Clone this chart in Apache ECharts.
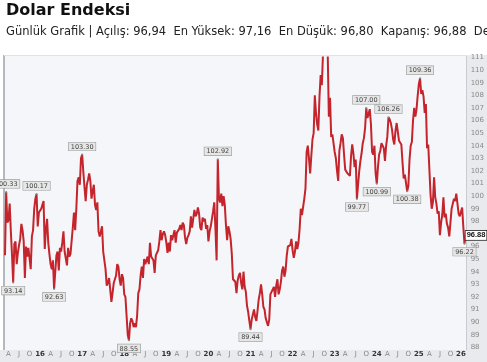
<!DOCTYPE html>
<html><head><meta charset="utf-8">
<script src="https://cdn.jsdelivr.net/npm/echarts@6/dist/echarts.min.js"></script>
<style>html,body{margin:0;padding:0;background:#fff}#c{width:487px;height:362px}</style>
</head><body><div id="c"></div>
<script>
// Dolar Endeksi - three samples per month (~1st, ~11th, ~21st), March 2015 .. February 2026
const startYear = 2015, startMonth = 3;
const sampleDays = [1, 11, 21];
const v2015 = [95.3,100.33,97.9, 98.1,99.4,97.2, 95.3,93.14,96.2, 96.4,94.6,95.5, 96.1,96.6,97.8, 97.3,96.4,93.5, 96.0,95.2,95.9, 96.0,94.2,96.8, 97.3,99.0,99.8, 100.17,97.6,98.7];
const v2016 = [98.7,99.0,99.3, 99.6,95.8,97.4, 98.2,96.3,95.4, 94.6,94.2,94.9, 92.63,94.0,95.3, 95.6,94.1,95.9, 95.6,96.3,97.2, 95.6,95.5,94.5, 95.9,95.2,95.4, 95.5,97.5,98.7, 97.3,99.0,101.2, 101.5,100.9,103.0];
const v2017 = [103.30,101.9,100.7, 99.6,100.9,101.3, 101.8,101.2,99.8, 100.4,100.9,99.3, 98.9,99.5,97.2, 96.8,96.9,97.6, 95.6,95.6,94.2, 92.9,93.1,93.5, 92.6,91.6,92.3, 93.1,93.0,93.7, 94.6,94.4,93.4, 92.9,93.8,93.5];
const v2018 = [92.2,92.0,90.5, 89.0,88.55,89.9, 90.3,90.1,89.6, 89.9,89.6,90.5, 92.3,92.6,93.7, 94.4,93.5,95.0, 94.6,94.6,95.2, 94.6,96.3,95.2, 95.3,94.9,93.9, 95.3,95.3,95.7, 96.4,97.3,96.5, 97.0,97.2,96.9];
const v2019 = [96.3,95.5,96.3, 95.6,96.9,96.5, 96.4,97.3,96.3, 97.1,97.0,97.4, 97.7,97.3,97.9, 97.7,96.7,96.2, 96.7,96.9,97.2, 98.4,97.5,98.2, 98.9,98.4,98.6, 99.1,98.6,97.5, 97.3,98.3,98.0, 98.2,97.4,97.7];
const v2020 = [96.4,97.2,97.6, 97.7,98.8,99.5, 97.4,94.9,102.92, 99.8,99.5,100.2, 99.2,100.0,99.3, 97.7,96.5,97.6, 97.2,96.6,95.4, 93.4,93.4,93.2, 92.3,93.3,93.7, 93.9,93.1,92.6, 94.0,92.8,92.4, 91.3,90.8,90.1];
const v2021 = [89.44,90.2,90.2, 91.0,90.4,90.1, 90.9,91.8,92.3, 93.0,92.2,91.2, 91.0,90.3,90.0, 89.7,90.2,92.2, 92.2,92.6,92.8, 92.0,92.9,93.4, 92.2,92.6,93.2, 94.1,94.4,93.6, 94.1,95.3,96.0, 96.1,96.1,96.6];
const v2022 = [95.7,95.1,95.6, 96.4,95.8,96.3, 97.4,99.0,98.5, 98.6,99.8,100.6, 103.5,104.0,103.0, 101.8,103.2,104.5, 105.0,108.0,106.6, 105.7,105.2,107.9, 109.6,108.8,111.3, 112.1,113.2,112.0, 111.5,106.3,107.8, 104.7,104.9,104.2];
const v2023 = [103.5,103.0,102.0, 101.2,103.6,104.2, 104.9,104.6,103.3, 102.1,102.2,101.8, 101.9,101.6,103.2, 104.1,103.4,102.3, 102.9,99.77,100.9, 102.0,102.8,103.4, 104.2,104.6,105.4, 107.00,106.2,106.2, 106.9,105.7,103.5, 103.3,104.0,101.8];
const v2024 = [100.99,102.3,103.3, 103.6,104.2,104.2, 103.8,102.8,104.0, 104.7,106.26,106.1, 105.8,105.3,104.5, 104.1,105.2,105.8, 105.7,104.4,104.4, 104.1,102.7,101.4, 101.7,101.7,100.38, 100.8,102.9,104.0, 104.3,106.0,107.0, 106.3,106.9,108.0];
const v2025 = [108.9,109.36,108.1, 108.4,107.9,106.6, 107.3,103.8,104.1, 104.2,100.1,99.0, 99.5,101.5,99.9, 99.4,98.6,98.8, 96.9,97.9,98.5, 99.9,98.3,98.6, 97.8,97.5,96.8, 97.9,99.0,98.9, 99.8,99.6,100.2, 99.4,98.6,98.4];
const v2026 = [98.3,99.1,97.6, 96.22,96.88];

// annotated extremes (date, side)
const annotated = [
  ['2015-03-11','top'],['2015-05-11','bottom'],['2015-12-01','top'],['2016-05-01','bottom'],
  ['2017-01-01','top'],['2018-02-11','bottom'],['2020-03-21','top'],['2021-01-01','bottom'],
  ['2023-07-11','bottom'],['2023-10-01','top'],['2024-01-01','bottom'],['2024-04-11','top'],
  ['2024-09-21','bottom'],['2025-01-11','top'],['2026-02-01','bottom']
];
const yMin = 88, yMax = 111;
const monthLetters = {4:'A', 7:'J', 10:'O'};

const values = [].concat(v2015,v2016,v2017,v2018,v2019,v2020,v2021,v2022,v2023,v2024,v2025,v2026);
const dates = values.map((v,i)=>{
  const m = startMonth-1+Math.floor(i/3);
  const y = startYear+Math.floor(m/12);
  const mm = m%12+1;
  return y+'-'+String(mm).padStart(2,'0')+'-'+String(sampleDays[i%3]).padStart(2,'0');
});
const last = values[values.length-1];

const chart = echarts.init(document.getElementById('c'), null, {renderer:'canvas'});
const FONT = 'DejaVu Sans';
chart.setOption({
  animation:false,
  backgroundColor:'#ffffff',
  textStyle:{fontFamily:FONT},
  title:[
    {text:'Dolar Endeksi', left:6, top:3, padding:0, textStyle:{fontFamily:FONT, fontSize:16, fontWeight:'bold', color:'#111'}},
    {text:'Günlük Grafik | Açılış: 96,94  En Yüksek: 97,16  En Düşük: 96,80  Kapanış: 96,88  Değişim', left:6, top:26, padding:0, textStyle:{fontFamily:FONT, fontSize:11.5, fontWeight:'normal', color:'#222'}}
  ],
  graphic:[
    {type:'rect', z:-10, shape:{x:4, y:55, width:463, height:295}, style:{fill:'#f4f6f9'}},
    {type:'rect', z:-10, shape:{x:467, y:55, width:20, height:307}, style:{fill:'#e8eaee'}},
    {type:'rect', z:-10, shape:{x:0, y:350, width:487, height:12}, style:{fill:'#e8eaee'}},
    {type:'rect', z:-9, shape:{x:466, y:55, width:1, height:295}, style:{fill:'#c8cbd0'}},
    {type:'rect', z:-9, shape:{x:3, y:55, width:2, height:295}, style:{fill:'#b5b8bd'}},
    {type:'rect', z:-9, shape:{x:4, y:55, width:463, height:1}, style:{fill:'#dfe2e6'}}
  ],
  grid:{left:5, right:20, top:57.5, bottom:14.7, containLabel:false},
  xAxis:{
    type:'category', data:dates, boundaryGap:false,
    axisLine:{show:false}, axisTick:{show:false}, splitLine:{show:false},
    axisLabel:{
      interval:(idx,val)=> val.endsWith('-01') && [1,4,7,10].includes(+val.slice(5,7)),
      formatter:(val)=>{const mm=+val.slice(5,7); return mm===1 ? '{y|'+val.slice(2,4)+'}' : monthLetters[mm];},
      fontSize:7, color:'#888', margin:3,
      rich:{y:{fontSize:7, fontWeight:'bold', color:'#333'}}
    }
  },
  yAxis:{
    type:'value', position:'right', min:yMin, max:yMax, interval:1,
    axisLine:{show:false}, axisTick:{show:false}, splitLine:{show:false},
    axisLabel:{fontSize:7, color:'#888', margin:5}
  },
  series:[{
    type:'line', data:values, showSymbol:false, clip:true,
    lineStyle:{color:'#c4242c', width:2},
    markPoint:{
      symbol:'circle', symbolSize:2, itemStyle:{color:'#888'},
      label:{show:true, fontSize:6.5, color:'#444', backgroundColor:'#e6e6e6', borderColor:'#9a9a9a', borderWidth:0.6, padding:[1,2,0,2], distance:3,
        formatter:(p)=>p.value.toFixed(2)},
      data:annotated.map(([d,pos])=>{const i=dates.indexOf(d); return {coord:[d, values[i]], value:values[i], label:{position:pos}};})
    },
    markLine:{
      symbol:'none', silent:true, lineStyle:{width:0, color:'rgba(0,0,0,0)'},
      label:{show:true, position:'end', distance:0, formatter:last.toFixed(2), fontFamily:'Liberation Sans', fontSize:7.5, fontWeight:'bold', color:'#111', backgroundColor:'#fff', borderColor:'#333', borderWidth:0.8, padding:[1,1,0,1]},
      data:[{yAxis:last}]
    }
  }]
});
</script></body></html>
